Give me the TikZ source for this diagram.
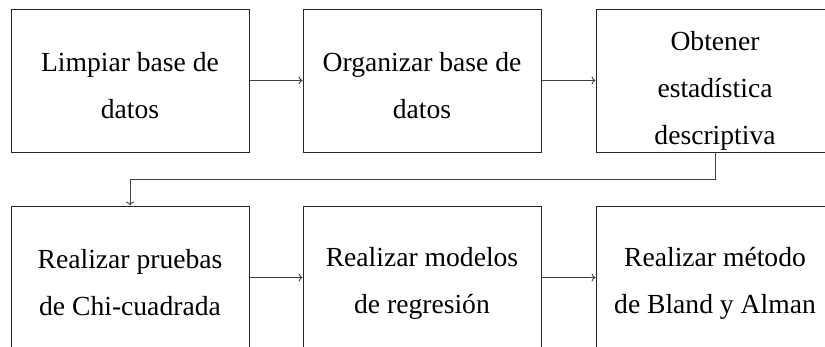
\documentclass[tikz,border=0pt]{standalone}
\usepackage{fontspec}
\setmainfont{Liberation Serif}
\usetikzlibrary{arrows.meta}
\begin{document}
\begin{tikzpicture}[x=1pt,y=-1pt,
  stepbox/.style={draw=black!85,line width=0.9pt,minimum width=238pt,minimum height=143pt,inner sep=0pt},
  steptext/.style={align=center,inner sep=0pt,font={\fontsize{27.6}{47}\selectfont}},
  conn/.style={draw=black!75,line width=0.9pt,-{To[length=4pt,width=8pt]}}]
\useasboundingbox (0,0) rectangle (825,347);
\clip (0,0) rectangle (825,347);
% top row
\node[stepbox] (b1) at (130,80.5) {};
\node[stepbox] (b2) at (422,80.5) {};
\node[stepbox] (b3) at (715,80.5) {};
% bottom row
\node[stepbox] (b4) at (130,277.5) {};
\node[stepbox] (b5) at (422,277.5) {};
\node[stepbox] (b6) at (715,277.5) {};
% texts
\node[steptext,yshift=-5.5pt] (t1) at (b1.center) {Limpiar base de\\datos};
\node[steptext,yshift=-5.5pt] (t2) at (b2.center) {Organizar base de\\datos};
\node[steptext,yshift=-10pt] (t3) at (b3.center) {Obtener\\estadística\\descriptiva};
\node[steptext,yshift=-5.5pt] (t4) at (b4.center) {Realizar pruebas\\de Chi-cuadrada};
\node[steptext,yshift=-5.5pt] (t5) at (b5.center) {Realizar modelos\\de regresión};
\node[steptext,yshift=-5.5pt] (t6) at (b6.center) {Realizar método\\de Bland y Alman};
% connectors
\coordinate (c1) at (715,179);
\coordinate (c2) at (130,179);
\draw[conn] (b1.east) -- (b2.west);
\draw[conn] (b2.east) -- (b3.west);
\draw[conn] (b3.south) -- (c1) -- (c2) -- (b4.north);
\draw[conn] (b4.east) -- (b5.west);
\draw[conn] (b5.east) -- (b6.west);
\end{tikzpicture}
\end{document}
